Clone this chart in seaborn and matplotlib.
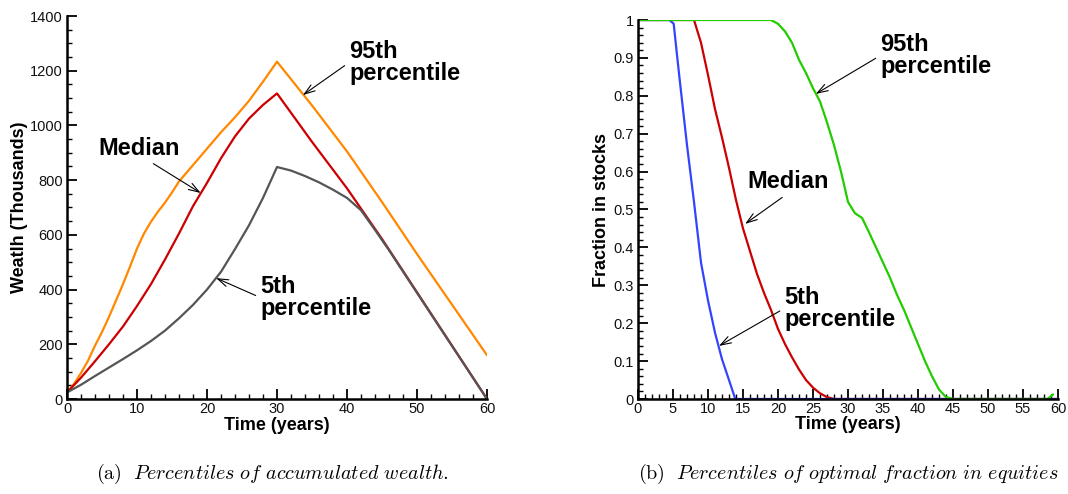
import numpy as np
import pandas as pd
import matplotlib
matplotlib.use("Agg")
import matplotlib.pyplot as plt
from matplotlib.ticker import MultipleLocator, FixedLocator
import seaborn as sns

# ---------------- data ----------------
# (a) Percentiles of accumulated wealth (thousands)
t_w95 = [0, 1, 2, 3, 4, 5, 6, 7, 8, 9, 10, 11, 12, 13, 14, 15, 16, 18, 20, 22, 24, 26, 28, 30,
         35, 40, 45, 50, 55, 60]
w95 = [24, 55, 95, 140, 195, 245, 300, 360, 420, 484, 550, 605, 648, 685, 718, 755, 795, 855, 915,
       975, 1030, 1090, 1160, 1233, 1073, 905, 720, 530, 345, 160]

t_w50 = [0, 2, 4, 6, 8, 10, 12, 14, 16, 18, 20, 22, 24, 26, 28, 30, 35, 40, 45, 50, 55, 60]
w50 = [24, 78, 138, 200, 265, 340, 420, 510, 605, 705, 790, 880, 960, 1025, 1075, 1117, 940, 770,
       585, 390, 195, 0]

t_w05 = [0, 2, 4, 6, 8, 10, 12, 14, 16, 18, 20, 22, 24, 26, 28, 30, 32, 34, 36, 38, 40, 42, 44,
         46, 48, 50, 55, 60]
w05 = [24, 52, 84, 115, 146, 178, 212, 250, 295, 344, 400, 465, 548, 635, 735, 848, 835, 815, 792,
       765, 735, 690, 618, 544, 466, 388, 194, 0]

# (b) Percentiles of optimal fraction in equities
t_f05 = [0, 4.5, 5.1, 5.5, 6, 7, 8, 9, 10, 11, 12, 13, 13.9, 60]
f05 = [1, 1, 0.99, 0.92, 0.835, 0.67, 0.52, 0.36, 0.26, 0.175, 0.105, 0.05, 0, 0]

t_f50 = [0, 8, 9, 10, 11, 12, 13, 14, 15, 16, 17, 18, 19, 20, 21, 22, 23, 24, 25, 26, 27, 28, 60]
f50 = [1, 1, 0.94, 0.855, 0.765, 0.69, 0.61, 0.525, 0.45, 0.39, 0.33, 0.28, 0.235, 0.185, 0.145,
       0.11, 0.078, 0.05, 0.03, 0.015, 0.005, 0, 0]

t_f95 = [0, 19, 20, 21, 22, 23, 24, 25, 26, 27, 28, 29, 30, 31, 32, 33, 34, 35, 36, 37, 38, 39,
         40, 41, 42, 43, 44, 45, 58.5, 59.3]
f95 = [1, 1, 0.99, 0.97, 0.94, 0.895, 0.86, 0.82, 0.785, 0.73, 0.67, 0.6, 0.52, 0.49, 0.478,
       0.44, 0.40, 0.36, 0.32, 0.275, 0.235, 0.19, 0.145, 0.1, 0.06, 0.025, 0.005, 0, 0, 0.012]

frac_ticks = [0, 0.1, 0.2, 0.3, 0.4, 0.5, 0.6, 0.7, 0.8, 0.9, 1]
frac_labels = ["0", "0.1", "0.2", "0.3", "0.4", "0.5", "0.6", "0.7", "0.8", "0.9", "1"]

# ---------------- style ----------------
sns.set_theme(style="ticks")
plt.rcParams["font.family"] = ["Liberation Sans", "DejaVu Sans"]
plt.rcParams["mathtext.fontset"] = "cm"

W, H = 1068, 494
fig = plt.figure(figsize=(W / 100, H / 100), dpi=100)
ax1 = fig.add_axes([67 / W, 1 - 399 / H, 420 / W, 383 / H])
ax2 = fig.add_axes([638 / W, 1 - 399 / H, 420 / W, 379 / H])

lw = 1.6
sns.lineplot(x=t_w95, y=w95, ax=ax1, color="#FF8800", linewidth=lw, sort=False)
sns.lineplot(x=t_w50, y=w50, ax=ax1, color="#CC0000", linewidth=lw, sort=False)
sns.lineplot(x=t_w05, y=w05, ax=ax1, color="#555555", linewidth=lw, sort=False)

sns.lineplot(x=t_f50, y=f50, ax=ax2, color="#CC0000", linewidth=lw, sort=False)
sns.lineplot(x=t_f05, y=f05, ax=ax2, color="#3344FF", linewidth=lw, sort=False)
sns.lineplot(x=t_f95, y=f95, ax=ax2, color="#22CC00", linewidth=lw, sort=False)

for ax in (ax1, ax2):
    ax.set_xlim(0, 60)
    for s in ("top", "right"):
        ax.spines[s].set_visible(False)
    for s in ("left", "bottom"):
        ax.spines[s].set_linewidth(1.8)
        ax.spines[s].set_color("black")
        ax.spines[s].set_zorder(5)
    ax.tick_params(which="major", direction="in", length=7.5, width=1.3, colors="black",
                   labelsize=10.5, labelcolor="#111111")
    ax.tick_params(which="minor", direction="in", length=3.8, width=1.0, colors="black")
    ax.tick_params(axis="x", which="major", pad=2)
    ax.tick_params(axis="y", which="major", pad=3)
    ax.set_facecolor("white")

ax1.set_ylim(0, 1400)
ax1.xaxis.set_major_locator(MultipleLocator(10))
ax1.xaxis.set_minor_locator(MultipleLocator(2))
ax1.yaxis.set_major_locator(MultipleLocator(200))
ax1.yaxis.set_minor_locator(MultipleLocator(50))

ax2.set_ylim(0, 1)
ax2.xaxis.set_major_locator(MultipleLocator(5))
ax2.xaxis.set_minor_locator(MultipleLocator(1))
ax2.yaxis.set_major_locator(FixedLocator(frac_ticks))
ax2.set_yticklabels(frac_labels)
ax2.yaxis.set_minor_locator(MultipleLocator(0.02))

lab = dict(fontsize=13, fontweight="bold", color="black")
ax1.set_xlabel("Time (years)", **lab)
ax1.set_ylabel("Weatlh (Thousands)", **lab)
ax2.set_xlabel("Time (years)", **lab)
ax2.set_ylabel("Fraction in stocks", **lab)
ax1.xaxis.set_label_coords(0.5, -0.048)
ax1.yaxis.set_label_coords(-0.093, 0.5)
ax2.xaxis.set_label_coords(0.5, -0.044)
ax2.yaxis.set_label_coords(-0.067, 0.5)


def note(ax, text, xy, xytext, relpos=(0, 0.5)):
    ax.annotate(text, xy=xy, xytext=xytext, textcoords="data", ha="left", va="center",
                fontsize=17, fontweight="bold", color="black", linespacing=0.95,
                arrowprops=dict(arrowstyle="->,head_length=0.45,head_width=0.15", lw=0.8,
                                color="black", shrinkA=1, shrinkB=0, relpos=relpos))


note(ax1, "95th\npercentile", (33.7, 1111), (40.3, 1230))
note(ax1, "Median", (19.1, 753), (4.43, 917), relpos=(0.6, 0.0))
note(ax1, "5th\npercentile", (21.3, 442), (27.6, 371))

note(ax2, "95th\npercentile", (25.4, 0.805), (34.6, 0.906))
note(ax2, "Median", (15.3, 0.462), (15.6, 0.573), relpos=(0.5, 0.0))
note(ax2, "5th\npercentile", (11.57, 0.14), (20.9, 0.239))

cap = dict(fontsize=14.5, ha="center", va="center", color="black")
fig.text(272 / W, 1 - 474 / H,
         r"$\mathrm{(a)}\ \ \mathit{Percentiles\ of\ accumulated\ wealth.}$", **cap)
fig.text(848 / W, 1 - 474 / H,
         r"$\mathrm{(b)}\ \ \mathit{Percentiles\ of\ optimal\ fraction\ in\ equities}$", **cap)

fig.savefig("out.png", dpi=100, facecolor="white")
